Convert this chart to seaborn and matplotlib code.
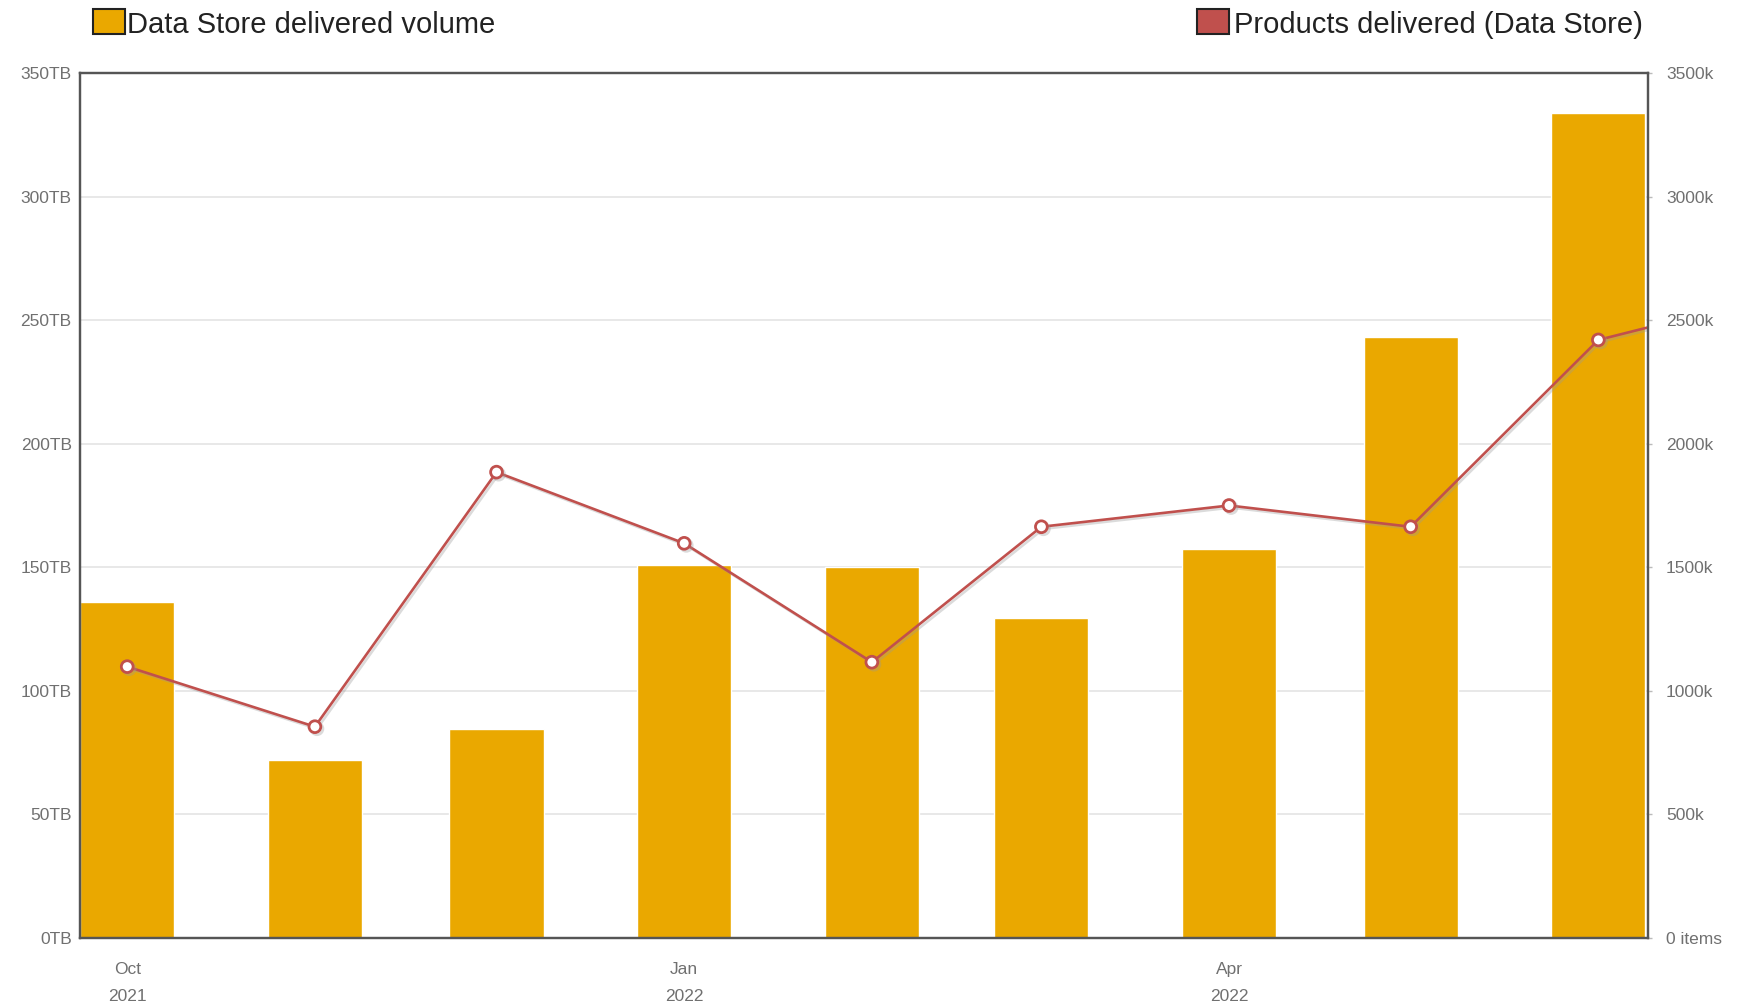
import matplotlib
matplotlib.use("Agg")
import matplotlib.pyplot as plt
import matplotlib.dates as mdates
import matplotlib.patheffects as pe
from matplotlib.patches import Rectangle
from matplotlib.ticker import FuncFormatter, MultipleLocator, FixedLocator
import pandas as pd
import seaborn as sns

# data
months = ["2021-10-01", "2021-11-01", "2021-12-01", "2022-01-01", "2022-02-01",
          "2022-03-01", "2022-04-01", "2022-05-01", "2022-06-01"]
volume_tb = [136, 72, 84.5, 151, 150, 129.5, 157.5, 243, 334]
# products line continues to the next month (clipped at the right edge)
product_months = months + ["2022-07-01"]
products_k = [1098, 855, 1885, 1597, 1116, 1664, 1750, 1664, 2420, 2605]
tick_months = ["2021-10-01", "2022-01-01", "2022-04-01"]
tick_labels = ["Oct\n2021", "Jan\n2022", "Apr\n2022"]

bar_col = "#EAA800"
line_col = "#C0504D"
txt_col = "#707070"
spine_col = "#555555"

sns.set_style("white")
plt.rcParams["font.family"] = ["Liberation Sans", "DejaVu Sans"]

x_bar = mdates.date2num(pd.to_datetime(months))
x_line = mdates.date2num(pd.to_datetime(product_months))

fig = plt.figure(figsize=(17.37, 10.05), dpi=100)
ax = fig.add_axes([80 / 1737, 1 - 938 / 1005, (1648 - 80) / 1737, (938 - 73) / 1005])

sns.barplot(x=x_bar, y=volume_tb, native_scale=True, width=0.555, color=bar_col,
            saturation=1, errorbar=None, ax=ax, zorder=2)
ax.set_ylim(0, 350)
ax.yaxis.set_major_locator(MultipleLocator(50))
ax.yaxis.set_major_formatter(FuncFormatter(lambda v, p: f"{v:.0f}TB"))
ax.grid(axis="y", color="#e4e4e4", lw=1.2)
ax.grid(axis="x", visible=False)
ax.set_axisbelow(True)

ax2 = ax.twinx()
sns.lineplot(x=x_line, y=products_k, ax=ax2, color=line_col, lw=1.9,
             marker="o", markersize=8.5, markerfacecolor="white",
             markeredgecolor=line_col, markeredgewidth=2,
             path_effects=[pe.SimpleLineShadow(offset=(1.5, -1.5), shadow_color="#999999", alpha=0.35),
                           pe.Normal()])
ax2.set_ylim(0, 3500)
ax2.yaxis.set_major_locator(MultipleLocator(500))
ax2.yaxis.set_major_formatter(FuncFormatter(lambda v, p: "0 items" if v == 0 else f"{v:.0f}k"))

x0 = mdates.date2num(pd.Timestamp("2021-10-01")) - 7.8
x1 = mdates.date2num(pd.Timestamp("2022-06-01")) + 8.2
ax.set_xlim(x0, x1)
ax.xaxis.set_major_locator(FixedLocator(mdates.date2num(pd.to_datetime(tick_months))))
ax.set_xticklabels(tick_labels, linespacing=2.0)
ax.set_xlabel("")
ax.set_ylabel("")
ax2.set_ylabel("")

for a in (ax, ax2):
    for s in a.spines.values():
        s.set_color(spine_col)
        s.set_linewidth(1.6)
        s.set_visible(True)
    a.tick_params(colors="#bbbbbb", labelcolor=txt_col, labelsize=12.5, length=3, width=1)
ax.tick_params(axis="y", length=0, pad=6)
ax.tick_params(axis="x", pad=14)
ax2.tick_params(axis="y", length=3, pad=10)

# legend boxes
fig.add_artist(Rectangle((93 / 1737, 1 - 34 / 1005), 32 / 1737, 25 / 1005, transform=fig.transFigure,
                         facecolor=bar_col, edgecolor="#222222", lw=1.5))
fig.text(127 / 1737, 1 - 33 / 1005, "Data Store delivered volume", fontsize=21, color="#222222",
         va="baseline", ha="left")
fig.add_artist(Rectangle((1197 / 1737, 1 - 34 / 1005), 32 / 1737, 25 / 1005, transform=fig.transFigure,
                         facecolor=line_col, edgecolor="#222222", lw=1.5))
fig.text(1643 / 1737, 1 - 33 / 1005, "Products delivered (Data Store)", fontsize=21, color="#222222",
         va="baseline", ha="right")

fig.savefig("out.png", dpi=100)
